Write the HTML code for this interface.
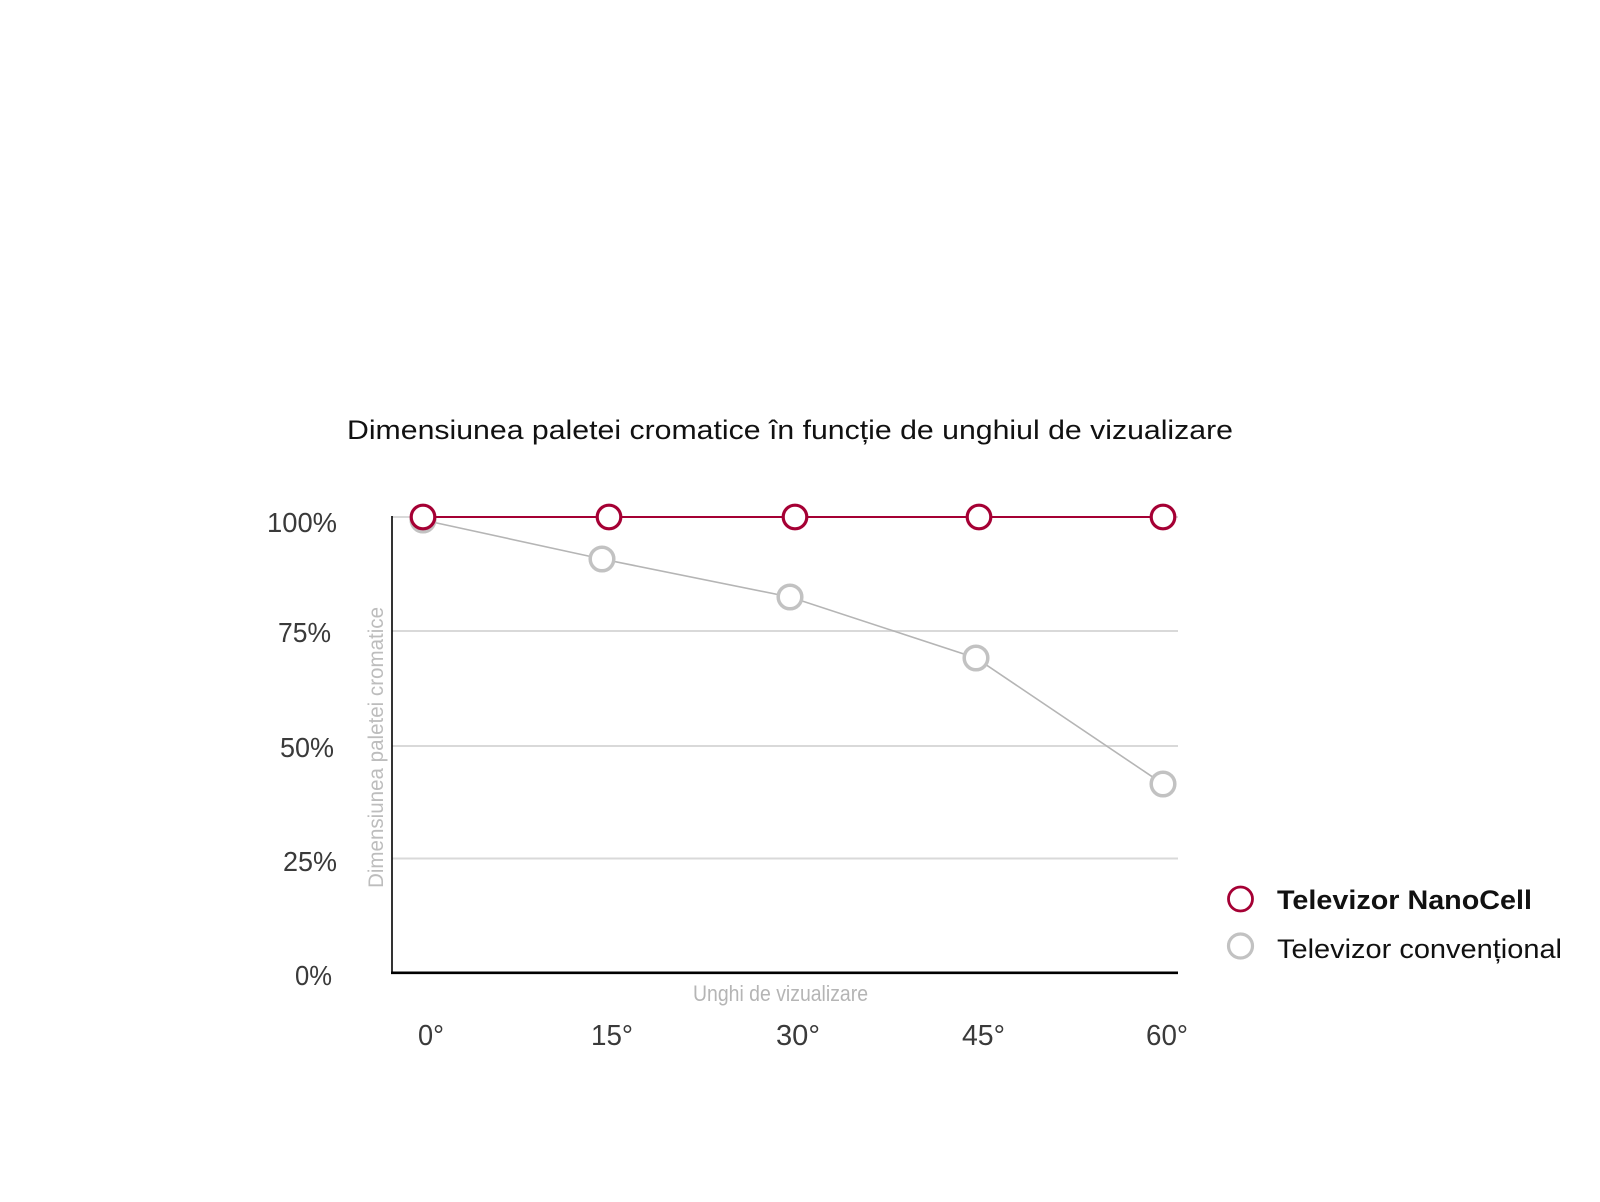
<!DOCTYPE html>
<html>
<head>
<meta charset="utf-8">
<style>
html,body{margin:0;padding:0;background:#fff;}
svg{display:block;}
text{font-family:"Liberation Sans","DejaVu Sans",sans-serif;}
</style>
</head>
<body>
<svg width="1600" height="1202" viewBox="0 0 1600 1202" xmlns="http://www.w3.org/2000/svg">
  <rect width="1600" height="1202" fill="#fff"/>
  <!-- Title -->
  <text x="347" y="439" font-size="26.5" fill="#111" textLength="886" lengthAdjust="spacingAndGlyphs">Dimensiunea paletei cromatice în funcție de unghiul de vizualizare</text>

  <!-- gridlines -->
  <g stroke="#d9d9d9" stroke-width="2">
    <line x1="392" y1="517" x2="1178" y2="517"/>
    <line x1="392" y1="631" x2="1178" y2="631"/>
    <line x1="392" y1="746" x2="1178" y2="746"/>
    <line x1="392" y1="858.5" x2="1178" y2="858.5"/>
  </g>
  <!-- axes -->
  <line x1="392" y1="516" x2="392" y2="974" stroke="#000" stroke-width="1.6"/>
  <line x1="391" y1="972.8" x2="1178" y2="972.8" stroke="#000" stroke-width="2.6"/>

  <!-- y tick labels -->
  <g font-size="28" fill="#3a3a3a">
    <text x="267" y="532" textLength="70" lengthAdjust="spacingAndGlyphs">100%</text>
    <text x="278" y="642" textLength="53" lengthAdjust="spacingAndGlyphs">75%</text>
    <text x="280" y="757" textLength="54" lengthAdjust="spacingAndGlyphs">50%</text>
    <text x="283" y="871" textLength="54" lengthAdjust="spacingAndGlyphs">25%</text>
    <text x="295" y="985" textLength="37" lengthAdjust="spacingAndGlyphs">0%</text>
  </g>

  <!-- y axis title -->
  <text transform="translate(383,888) rotate(-90)" x="0" y="0" font-size="21" fill="#bdbdbd" textLength="281" lengthAdjust="spacingAndGlyphs">Dimensiunea paletei cromatice</text>

  <!-- x axis title -->
  <text x="693" y="1001" font-size="22" fill="#b5b5b5" textLength="175" lengthAdjust="spacingAndGlyphs">Unghi de vizualizare</text>

  <!-- x tick labels -->
  <g font-size="29" fill="#3a3a3a">
    <text x="418" y="1045" textLength="26" lengthAdjust="spacingAndGlyphs">0°</text>
    <text x="591" y="1045" textLength="42" lengthAdjust="spacingAndGlyphs">15°</text>
    <text x="776" y="1045" textLength="44" lengthAdjust="spacingAndGlyphs">30°</text>
    <text x="962" y="1045" textLength="43" lengthAdjust="spacingAndGlyphs">45°</text>
    <text x="1146" y="1045" textLength="42" lengthAdjust="spacingAndGlyphs">60°</text>
  </g>

  <!-- gray series -->
  <polyline points="423,520 602,559 790,597 976,658 1163,784" fill="none" stroke="#b5b5b5" stroke-width="1.6"/>
  <g fill="#fff" stroke="#c2c2c2" stroke-width="3.5">
    <circle cx="423" cy="520" r="11.8"/>
    <circle cx="602" cy="559" r="11.8"/>
    <circle cx="790" cy="597" r="11.8"/>
    <circle cx="976" cy="658" r="11.8"/>
    <circle cx="1163" cy="784" r="11.8"/>
  </g>

  <!-- red series -->
  <line x1="423" y1="517" x2="1163" y2="517" stroke="#a50034" stroke-width="2"/>
  <g fill="#fff" stroke="#a50034" stroke-width="3.2">
    <circle cx="423" cy="517" r="11.8"/>
    <circle cx="609" cy="517" r="11.8"/>
    <circle cx="795" cy="517" r="11.8"/>
    <circle cx="979" cy="517" r="11.8"/>
    <circle cx="1163" cy="517" r="11.8"/>
  </g>

  <!-- legend -->
  <circle cx="1240.5" cy="899" r="12" fill="#fff" stroke="#a50034" stroke-width="2.8"/>
  <text x="1277" y="909" font-size="27" font-weight="bold" fill="#111" textLength="255" lengthAdjust="spacingAndGlyphs">Televizor NanoCell</text>
  <circle cx="1240.5" cy="946" r="12" fill="#fff" stroke="#c2c2c2" stroke-width="3.2"/>
  <text x="1277" y="958" font-size="27" fill="#111" textLength="285" lengthAdjust="spacingAndGlyphs">Televizor convențional</text>
</svg>
</body>
</html>
